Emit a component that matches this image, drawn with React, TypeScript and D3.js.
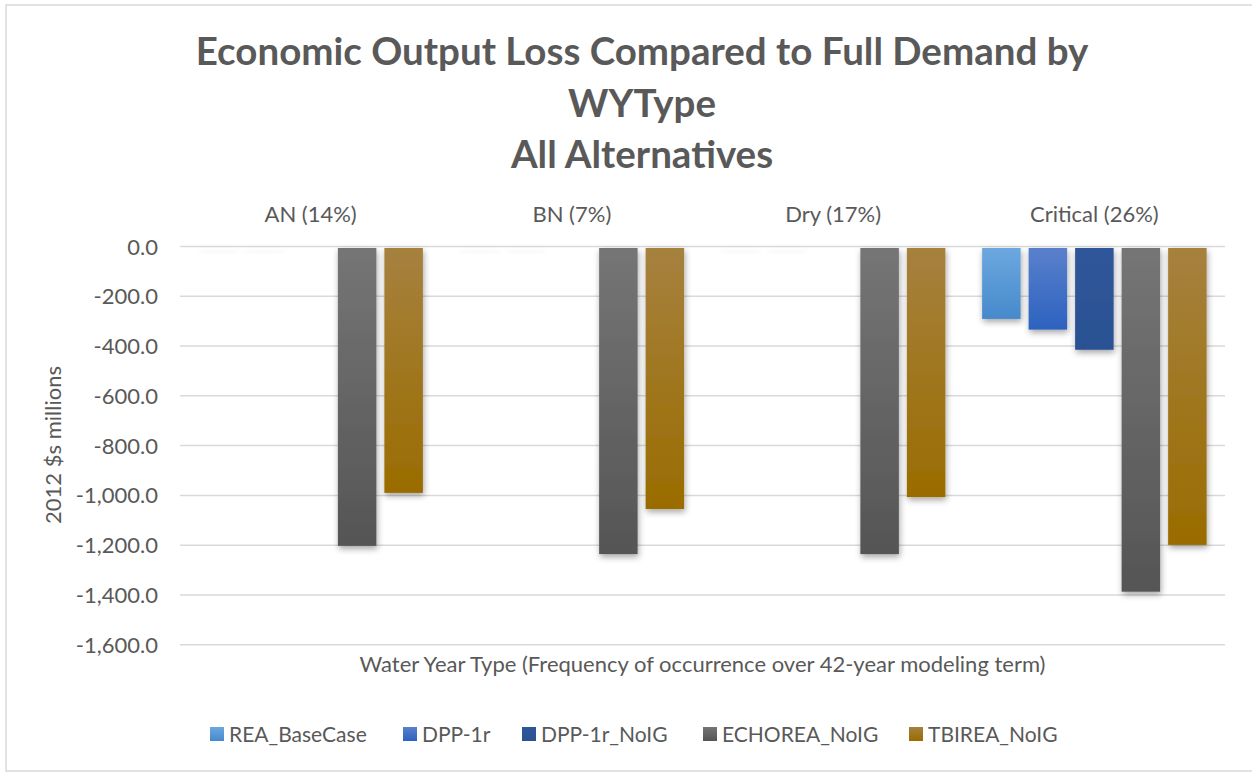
import React from "react";
import * as d3 from "d3";

const categories = ["AN (14%)", "BN (7%)", "Dry (17%)", "Critical (26%)"];
const seriesNames = ["REA_BaseCase", "DPP-1r", "DPP-1r_NoIG", "ECHOREA_NoIG", "TBIREA_NoIG"];
const reaBaseCase = [-1, -1, -1, -291];
const dpp1r = [-1, -1, -1, -334];
const dpp1rNoIG = [0, 0, 0, -415];
const echoreaNoIG = [-1203, -1236, -1236, -1387];
const tbireaNoIG = [-990, -1055, -1007, -1199];
const yTicks = [0, -200, -400, -600, -800, -1000, -1200, -1400, -1600];
const titleLines = ["Economic Output Loss Compared to Full Demand by", "WYType", "All Alternatives"];
const yAxisTitle = "2012 $s millions";
const xAxisTitle = "Water Year Type (Frequency of occurrence over 42-year modeling term)";

const seriesValues = [reaBaseCase, dpp1r, dpp1rNoIG, echoreaNoIG, tbireaNoIG];
const gradTop = ["#6ca8df", "#5a80cc", "#2f5699", "#757575", "#a6813f"];
const gradBottom = ["#4689cc", "#2c62bf", "#2b5193", "#555555", "#9a6c00"];

const W = 1252;
const H = 772;
const FONT = "Lato, 'Open Sans', sans-serif";
const TXT = "#595959";

export default function App() {
  const plotL = 180;
  const plotR = 1225;
  const plotT = 246.5;
  const plotB = 644.7;

  const x0 = d3.scaleBand<string>().domain(categories).range([plotL, plotR]).paddingInner(0).paddingOuter(0);
  const x1 = d3
    .scaleBand<string>()
    .domain(seriesNames)
    .range([0, x0.bandwidth()])
    .paddingInner(0.172)
    .paddingOuter(0.395);
  const y = d3.scaleLinear().domain([-1600, 0]).range([plotB, plotT]);
  const fmtRaw = d3.format(",.1f");
  const fmt = (v: number) => fmtRaw(v).replace("\u2212", "-");

  const legendX = [210, 403, 522, 703, 909];

  return (
    <svg width={W} height={H} style={{ position: "absolute", left: 0, top: 0 }} fontFamily={FONT}>
      <defs>
        {seriesNames.map((s, i) => (
          <linearGradient key={s} id={`g${i}`} x1="0" y1="0" x2="0" y2="1">
            <stop offset="0" stopColor={gradTop[i]} />
            <stop offset="1" stopColor={gradBottom[i]} />
          </linearGradient>
        ))}
        <filter id="shadow" x="-30%" y="-30%" width="160%" height="160%">
          <feDropShadow dx="1" dy="3" stdDeviation="3" floodColor="#000" floodOpacity="0.35" />
        </filter>
        <filter id="faint" x="-30%" y="-500%" width="160%" height="1100%">
          <feDropShadow dx="1" dy="3" stdDeviation="3" floodColor="#000" floodOpacity="0.12" />
        </filter>
      </defs>
      <rect x={0} y={0} width={W} height={H} fill="#fff" />
      <rect x={6} y={5} width={W + 4} height={766} fill="#fff" stroke="#d9d9d9" strokeWidth={1.5} />

      {titleLines.map((t, i) => (
        <text
          key={t}
          x={642}
          y={65 + i * 51.5}
          textAnchor="middle"
          fontSize={38.5}
          fontWeight={700}
          fill={TXT}
        >
          {t}
        </text>
      ))}

      {yTicks.map((v) => (
        <g key={v}>
          <line x1={plotL} x2={plotR} y1={y(v)} y2={y(v)} stroke="#d9d9d9" strokeWidth={1.5} />
          <text x={158} y={y(v) + 8} textAnchor="end" fontSize={22} fill={TXT}>
            {fmt(v)}
          </text>
        </g>
      ))}

      {categories.map((c) => (
        <text key={c} x={(x0(c) as number) + x0.bandwidth() / 2} y={222} textAnchor="middle" fontSize={22} fill={TXT}>
          {c}
        </text>
      ))}

      {seriesNames.map((s, si) =>
        categories.map((c, ci) => {
          const v = seriesValues[si][ci];
          if (v === 0) return null;
          const top = y(0) + 1.5;
          const raw = y(v) - top;
          const tiny = raw < 2;
          return (
            <rect
              key={s + c}
              x={(x0(c) as number) + (x1(s) as number)}
              y={top}
              width={x1.bandwidth()}
              height={tiny ? 1 : raw}
              fill={tiny ? "#ffffff" : `url(#g${si})`}
              filter={tiny ? "url(#faint)" : "url(#shadow)"}
            />
          );
        })
      )}

      <text
        transform={`translate(61,445) rotate(-90)`}
        textAnchor="middle"
        fontSize={22}
        fill={TXT}
      >
        {yAxisTitle}
      </text>

      <text x={(plotL + plotR) / 2} y={672} textAnchor="middle" fontSize={22} fill={TXT}>
        {xAxisTitle}
      </text>

      {seriesNames.map((s, i) => (
        <g key={s}>
          <rect x={legendX[i]} y={727} width={14} height={14} fill={`url(#g${i})`} />
          <text x={legendX[i] + 19} y={742} fontSize={21} fill={TXT}>
            {s}
          </text>
        </g>
      ))}
    </svg>
  );
}
